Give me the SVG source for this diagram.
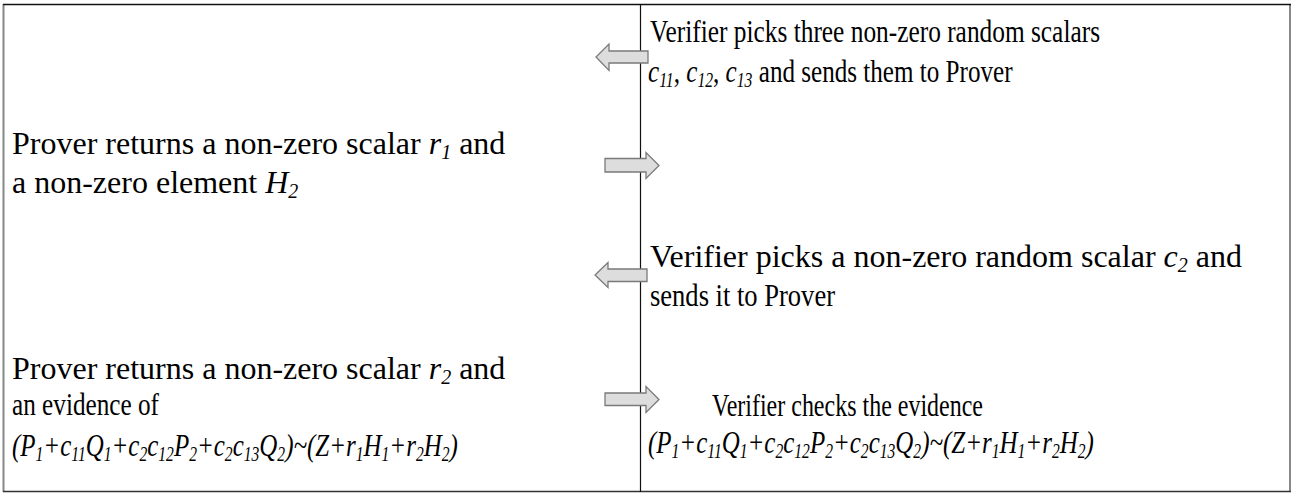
<svg xmlns="http://www.w3.org/2000/svg" width="1295" height="497" viewBox="0 0 1295 497">
<style>
text{font-family:"Liberation Serif","Times New Roman",serif;font-size:32px;fill:#000}
.i{font-style:italic}
.s{font-size:20px}
.arr{fill:#dddddd;stroke:#7a7a7a;stroke-width:1.3}
</style>
<rect x="0" y="0" width="1295" height="497" fill="#fff"/>
<g id="frame">
<line x1="3.5" y1="4" x2="3.5" y2="492" stroke="#888" stroke-width="2"/>
<line x1="1290" y1="4" x2="1290" y2="492" stroke="#888" stroke-width="2"/>
<line x1="3" y1="4.5" x2="1291" y2="4.5" stroke="#111" stroke-width="1.5"/>
<line x1="3" y1="491.5" x2="1291" y2="491.5" stroke="#333" stroke-width="1.5"/>
<line x1="640.5" y1="4" x2="640.5" y2="492" stroke="#111" stroke-width="1.2"/>
</g>
<g id="connectors">
<polygon class="arr" points="648,51 609,51 609,44 596,57 609,70.5 609,63 648,63"/>
<polygon class="arr" points="605,158.5 646,158.5 646,152.5 659,165.5 646,178.5 646,172 605,172"/>
<polygon class="arr" points="647,269 608,269 608,262.5 595,275 608,287.5 608,281.5 647,281.5"/>
<polygon class="arr" points="605,393 646,393 646,386.5 659,399.5 646,412.5 646,405.5 605,405.5"/>
</g>
<g id="v1">
<text x="650" y="42" textLength="450" lengthAdjust="spacingAndGlyphs">Verifier picks three non-zero random scalars</text>
<text transform="translate(648,82) scale(0.785,1)"><tspan class="i">c<tspan class="s" dy="5">11</tspan></tspan><tspan dy="-5">, </tspan><tspan class="i">c<tspan class="s" dy="5">12</tspan></tspan><tspan dy="-5">, </tspan><tspan class="i">c<tspan class="s" dy="5">13</tspan></tspan><tspan dy="-5"> and sends them to Prover</tspan></text>
</g>
<g id="p1">
<text x="12" y="154">Prover returns a non-zero scalar <tspan class="i">r<tspan class="s" dy="5">1</tspan></tspan><tspan dy="-5"> and</tspan></text>
<text x="12" y="193">a non-zero element <tspan class="i">H<tspan class="s" dy="5">2</tspan></tspan></text>
</g>
<g id="v2">
<text x="650" y="267">Verifier picks a non-zero random scalar <tspan class="i">c<tspan class="s" dy="5">2</tspan></tspan><tspan dy="-5"> and</tspan></text>
<text x="650" y="306" textLength="185" lengthAdjust="spacingAndGlyphs">sends it to Prover</text>
</g>
<g id="p2">
<text x="12" y="379">Prover returns a non-zero scalar <tspan class="i">r<tspan class="s" dy="5">2</tspan></tspan><tspan dy="-5"> and</tspan></text>
<text x="12" y="415" textLength="147" lengthAdjust="spacingAndGlyphs">an evidence of</text>
<text class="i" transform="translate(12,456) scale(0.78,1)">(P<tspan class="s" dy="5">1</tspan><tspan dy="-5">+c</tspan><tspan class="s" dy="5">11</tspan><tspan dy="-5">Q</tspan><tspan class="s" dy="5">1</tspan><tspan dy="-5">+c</tspan><tspan class="s" dy="5">2</tspan><tspan dy="-5">c</tspan><tspan class="s" dy="5">12</tspan><tspan dy="-5">P</tspan><tspan class="s" dy="5">2</tspan><tspan dy="-5">+c</tspan><tspan class="s" dy="5">2</tspan><tspan dy="-5">c</tspan><tspan class="s" dy="5">13</tspan><tspan dy="-5">Q</tspan><tspan class="s" dy="5">2</tspan><tspan dy="-5">)~(Z+r</tspan><tspan class="s" dy="5">1</tspan><tspan dy="-5">H</tspan><tspan class="s" dy="5">1</tspan><tspan dy="-5">+r</tspan><tspan class="s" dy="5">2</tspan><tspan dy="-5">H</tspan><tspan class="s" dy="5">2</tspan><tspan dy="-5">)</tspan></text>
</g>
<g id="v3">
<text x="712" y="416" textLength="271" lengthAdjust="spacingAndGlyphs">Verifier checks the evidence</text>
<text class="i" transform="translate(648,453) scale(0.78,1)">(P<tspan class="s" dy="5">1</tspan><tspan dy="-5">+c</tspan><tspan class="s" dy="5">11</tspan><tspan dy="-5">Q</tspan><tspan class="s" dy="5">1</tspan><tspan dy="-5">+c</tspan><tspan class="s" dy="5">2</tspan><tspan dy="-5">c</tspan><tspan class="s" dy="5">12</tspan><tspan dy="-5">P</tspan><tspan class="s" dy="5">2</tspan><tspan dy="-5">+c</tspan><tspan class="s" dy="5">2</tspan><tspan dy="-5">c</tspan><tspan class="s" dy="5">13</tspan><tspan dy="-5">Q</tspan><tspan class="s" dy="5">2</tspan><tspan dy="-5">)~(Z+r</tspan><tspan class="s" dy="5">1</tspan><tspan dy="-5">H</tspan><tspan class="s" dy="5">1</tspan><tspan dy="-5">+r</tspan><tspan class="s" dy="5">2</tspan><tspan dy="-5">H</tspan><tspan class="s" dy="5">2</tspan><tspan dy="-5">)</tspan></text>
</g>
</svg>
